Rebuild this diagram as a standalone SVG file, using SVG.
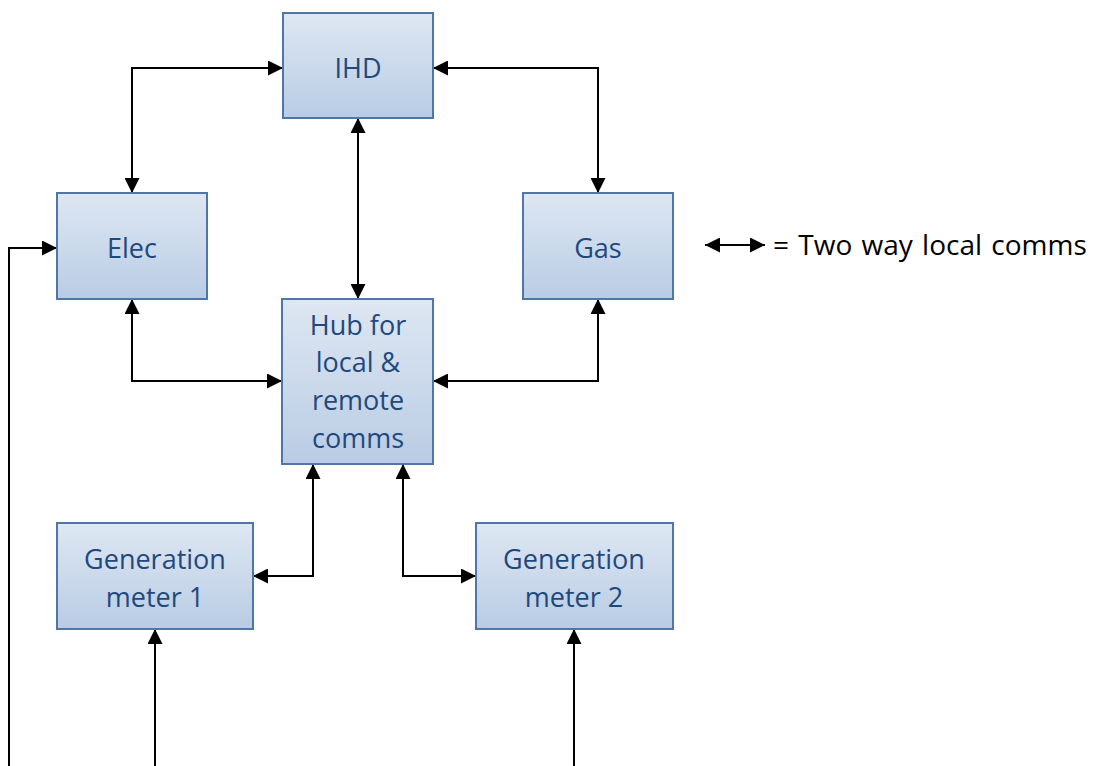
<svg xmlns="http://www.w3.org/2000/svg" width="1105" height="766" viewBox="0 0 1105 766">
  <defs>
    <linearGradient id="boxFill" x1="0" y1="0" x2="0" y2="1">
      <stop offset="0" stop-color="#dee7f2"/>
      <stop offset="1" stop-color="#b9cce4"/>
    </linearGradient>
    <marker id="arrow" viewBox="0 0 15 15" refX="15" refY="7.5" markerWidth="15" markerHeight="15" markerUnits="userSpaceOnUse" orient="auto-start-reverse">
      <path d="M0,0 L15,7.5 L0,15 Z" fill="#000"/>
    </marker>
  </defs>
  <style>
    .box { fill: url(#boxFill); stroke: #4f76a6; stroke-width: 2; }
    .label { font-family: "Open Sans", "Noto Sans", sans-serif; font-size: 27px; fill: #1f497d; text-anchor: middle; }
    .link { fill: none; stroke: #000; stroke-width: 2; }
    .both { marker-start: url(#arrow); marker-end: url(#arrow); }
    .one { marker-end: url(#arrow); }
    .legend { font-family: "Open Sans", "Noto Sans", sans-serif; font-size: 28px; fill: #000; word-spacing: 2px; }
  </style>
  <rect width="1105" height="766" fill="#fff"/>

  <!-- connectors -->
  <g id="connectors">
    <path class="link both" d="M132,193 V68 H283"/>
    <path class="link both" d="M433,68 H598 V193"/>
    <path class="link both" d="M358,118 V299"/>
    <path class="link both" d="M132,299 V381 H282"/>
    <path class="link both" d="M598,299 V381 H433"/>
    <path class="link both" d="M313,464 V576 H253"/>
    <path class="link both" d="M403,464 V576 H476"/>
    <path class="link one" d="M9,766 V248 H57"/>
    <path class="link one" d="M155,766 V629"/>
    <path class="link one" d="M574,766 V629"/>
  </g>

  <!-- nodes -->
  <g id="ihd">
    <rect class="box" x="283" y="13" width="150" height="105"/>
    <text class="label" x="358" y="78">IHD</text>
  </g>
  <g id="elec">
    <rect class="box" x="57" y="193" width="150" height="106"/>
    <text class="label" x="132" y="258">Elec</text>
  </g>
  <g id="gas">
    <rect class="box" x="523" y="193" width="150" height="106"/>
    <text class="label" x="598" y="258">Gas</text>
  </g>
  <g id="hub">
    <rect class="box" x="282" y="299" width="151" height="165"/>
    <text class="label" x="358" y="335">Hub for</text>
    <text class="label" x="358" y="372">local &amp;</text>
    <text class="label" x="358" y="410">remote</text>
    <text class="label" x="358" y="448">comms</text>
  </g>
  <g id="gen1">
    <rect class="box" x="57" y="523" width="196" height="106"/>
    <text class="label" x="155" y="569">Generation</text>
    <text class="label" x="155" y="607">meter 1</text>
  </g>
  <g id="gen2">
    <rect class="box" x="476" y="523" width="197" height="106"/>
    <text class="label" x="574" y="569">Generation</text>
    <text class="label" x="574" y="607">meter 2</text>
  </g>

  <!-- legend -->
  <g id="legend">
    <path class="link both" d="M705,245 H765"/>
    <text class="legend" x="773" y="255">= Two way local comms</text>
  </g>
</svg>
